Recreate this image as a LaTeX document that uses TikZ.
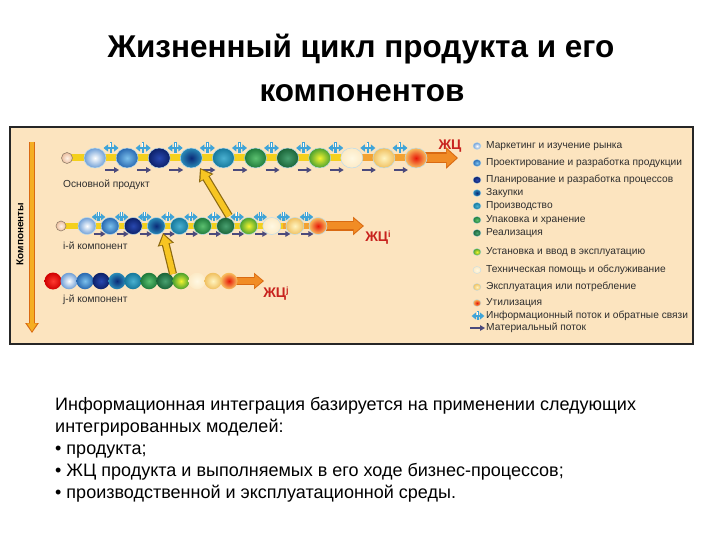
\documentclass[tikz,border=0pt]{standalone}
\usepackage{fontspec}
\setmainfont{Liberation Sans}
\usetikzlibrary{arrows.meta,calc,shapes.geometric}
\definecolor{panel}{HTML}{FCE4BF}
\definecolor{halo}{HTML}{B8DCEF}
\definecolor{barY}{HTML}{F4D01C}
\definecolor{barO}{HTML}{F3A231}
\definecolor{arrO}{HTML}{F18C25}
\definecolor{arrOd}{HTML}{D96A12}
\definecolor{linkY}{HTML}{F7C522}
\definecolor{linkD}{HTML}{8C6A12}
\definecolor{infoc}{HTML}{3FA4D8}
\definecolor{matc}{HTML}{4B4A7C}
\definecolor{jcred}{HTML}{C8231E}
\definecolor{legtxt}{HTML}{2E2E2E}
\definecolor{ci0}{HTML}{FFF2E6}\definecolor{co0}{HTML}{EBBE9E}
\definecolor{ci1}{HTML}{FFFFFF}\definecolor{co1}{HTML}{6E9ED6}
\definecolor{ci2}{HTML}{7CC0EC}\definecolor{co2}{HTML}{2868B0}
\definecolor{ci3}{HTML}{2848B0}\definecolor{co3}{HTML}{0C2068}
\definecolor{ci4}{HTML}{0A2A78}\definecolor{co4}{HTML}{2A8CB8}
\definecolor{ci5}{HTML}{4AB0D0}\definecolor{co5}{HTML}{16789C}
\definecolor{ci6}{HTML}{5CC070}\definecolor{co6}{HTML}{1E7A3A}
\definecolor{ci7}{HTML}{48A070}\definecolor{co7}{HTML}{1A6438}
\definecolor{ci8}{HTML}{F4F430}\definecolor{co8}{HTML}{48A030}
\definecolor{ci9}{HTML}{FFF8E2}\definecolor{co9}{HTML}{FCEAC6}
\definecolor{ci10}{HTML}{FFF4C0}\definecolor{co10}{HTML}{F0C060}
\definecolor{ci11}{HTML}{E81808}\definecolor{co11}{HTML}{F8C060}
\definecolor{cired}{HTML}{FF3A30}\definecolor{cored}{HTML}{D00000}
\tikzset{
  titlefont/.style={font=\fontsize{31.5}{36}\selectfont\bfseries, text=black, inner sep=0pt},
  bodytext/.style={font=\fontsize{18}{22}\selectfont, text=black, inner sep=0pt, anchor=base west},
  legtext/.style={font=\fontsize{10.2}{11}\selectfont, text=legtxt, inner sep=0pt, anchor=west},
  rowlabel/.style={font=\fontsize{10.2}{12}\selectfont, text=legtxt, inner sep=0pt, anchor=west},
  jclabel/.style={font=\fontsize{14}{16}\selectfont\bfseries, text=jcred, inner sep=0pt},
  ball/.style={ellipse, inner sep=0pt, draw=halo, line width=0.5pt},
  startball/.style={circle, inner sep=0pt, draw=gray!70!brown, line width=0.6pt, inner color=ci0, outer color=co0},
  barya/.style={draw=barY, line width=7pt},
  baror/.style={draw=barO, line width=7pt},
  infoarrow/.style={draw=infoc, line width=2.4pt, {Triangle[length=4.5pt,width=7pt]}-{Triangle[length=4.5pt,width=7pt]}},
  matarrow/.style={draw=matc, line width=1.4pt, -{Triangle[length=5pt,width=5.5pt]}},
  info/.pic={
    \draw[infoarrow] (-7.5,0) -- (7.5,0);
    \draw[infoc, line width=2.6pt] (0,-6) -- (0,5);
    \draw[white, line width=0.6pt] (-0.4,-5) -- (-0.4,-1);
  },
}
\begin{document}
\begin{tikzpicture}[x=1pt,y=-1pt]
\useasboundingbox (0,0) rectangle (720,540);
\fill[white] (0,0) rectangle (720,540);

% ---- title
\node[titlefont, anchor=base] (title1) at (361,58) {Жизненный цикл продукта и его};
\node[titlefont, anchor=base] (title2) at (362,102) {компонентов};

% ---- panel
\draw[fill=panel, draw=black!85, line width=1.3pt] (10,127) rectangle (693,344);

% ---- vertical components arrow
\coordinate (vtop) at (32,142);
\coordinate (vbot) at (32,333);
\draw[draw=arrOd, line width=6.5pt, -{Triangle[length=10pt,width=13pt]}] (vtop) -- (vbot);
\draw[draw=linkY!60!arrO, line width=4pt, shorten >=1.6pt, -{Triangle[length=8pt,width=9.5pt]}] (vtop) -- (vbot);
\node[font=\fontsize{10}{11}\selectfont\bfseries, rotate=90, inner sep=0pt] (comp) at (20,234) {Компоненты};

% ================= ROW 1 =================
\coordinate (p0) at (67,158);
\foreach \k in {1,...,11} { \coordinate (p\k) at ({95+(\k-1)*32.1},158); }
\foreach \k [evaluate=\k as \n using int(\k+1)] in {1,...,10} { \coordinate (m\k) at ($(p\k)!0.5!(p\n)$); }
\coordinate (r1tip) at (458,158);
\draw[barya] (p0) -- ($(m8)+(6,0)$);
\draw[baror] ($(p9)+(8,0)$) -- (p11);
\draw[draw=arrOd, line width=11pt, -{Triangle[length=12pt,width=21pt]}] (p11) -- (r1tip);
\draw[draw=arrO, line width=8.5pt, shorten >=1.5pt, -{Triangle[length=10pt,width=17pt]}] (p11) -- (r1tip);
\node[startball, minimum size=11pt] (a0) at (p0) {};
\foreach \k in {1,...,11} {
  \node[ball, minimum width=22pt, minimum height=20pt, inner color=ci\k, outer color=co\k] (a\k) at (p\k) {};
}
\foreach \k in {1,...,10} {
  \pic at ($(m\k)+(0,-10)$) {info};
  \draw[matarrow] ($(m\k)+(-6,12)$) -- ($(m\k)+(8,12)$);
}
\node[rowlabel] (lab1) at (63,185) {Основной продукт};
\node[jclabel] (jc1) at (450,146) {ЖЦ};

% ================= ROW 2 =================
\coordinate (q0) at (61,226);
\foreach \k in {1,...,11} { \coordinate (q\k) at ({87+(\k-1)*23.1},226); }
\foreach \k [evaluate=\k as \n using int(\k+1)] in {1,...,10} { \coordinate (n\k) at ($(q\k)!0.5!(q\n)$); }
\coordinate (r2tip) at (364,226);
\draw[barya, line width=6pt] (q0) -- (n9);
\draw[baror, line width=6pt] (n9) -- (q11);
\draw[draw=arrOd, line width=9.5pt, -{Triangle[length=11pt,width=18pt]}] (q11) -- (r2tip);
\draw[draw=arrO, line width=7pt, shorten >=1.5pt, -{Triangle[length=9pt,width=14.5pt]}] (q11) -- (r2tip);
\node[startball, minimum size=10pt] (b0) at (q0) {};
\foreach \k in {1,...,11} {
  \node[ball, minimum width=18pt, minimum height=17pt, inner color=ci\k, outer color=co\k] (b\k) at (q\k) {};
}
\foreach \k in {1,...,10} {
  \pic[scale=0.9] at ($(n\k)+(0,-9)$) {info};
  \draw[matarrow] ($(n\k)+(-5,8)$) -- ($(n\k)+(7,8)$);
}
\node[rowlabel] (lab2) at (63,246) {i-й компонент};
\node[jclabel] (jc2) at (378,238) {ЖЦ\raisebox{4pt}{\fontsize{9}{9}\selectfont i}};

% ================= ROW 3 =================
\coordinate (s0) at (53,281);
\foreach \k in {1,...,11} { \coordinate (s\k) at ({69+(\k-1)*16},281); }
\coordinate (r3tip) at (264,281);
\draw[draw=arrOd, line width=8.5pt, -{Triangle[length=10pt,width=16pt]}] (s11) -- (r3tip);
\draw[draw=arrO, line width=6pt, shorten >=1.5pt, -{Triangle[length=8pt,width=13pt]}] (s11) -- (r3tip);
\node[circle, inner sep=0pt, minimum size=17pt, inner color=cired, outer color=cored] (c0) at (s0) {};
\foreach \k in {1,...,11} {
  \node[ball, draw=none, minimum width=17pt, minimum height=16.5pt, inner color=ci\k, outer color=co\k] (c\k) at (s\k) {};
}
\node[rowlabel] (lab3) at (63,300) {j-й компонент};
\node[jclabel] (jc3) at (276,294) {ЖЦ\raisebox{4pt}{\fontsize{9}{9}\selectfont j}};

% ================= links between rows =================
\coordinate (lA1) at (229,216);
\coordinate (lA2) at (200,168);
\coordinate (lB1) at (173,274);
\coordinate (lB2) at (163,233);
\foreach \u/\v in {lA1/lA2, lB1/lB2} {
  \draw[draw=linkD, line width=8pt, -{Triangle[length=12pt,width=16pt]}] (\u) -- (\v);
  \draw[draw=linkY, line width=5.6pt, shorten >=1.8pt, -{Triangle[length=9.5pt,width=12pt]}] (\u) -- (\v);
}

% ================= legend =================
\foreach \k/\yy/\txt in {
  1/146/{Маркетинг и изучение рынка},
  2/163/{Проектирование и разработка продукции},
  3/180/{Планирование и разработка процессов},
  4/193/{Закупки},
  5/206/{Производство},
  6/220/{Упаковка и хранение},
  7/233/{Реализация},
  8/252/{Установка и ввод в эксплуатацию},
  9/270/{Техническая помощь и обслуживание},
  10/287/{Эксплуатация или потребление},
  11/303/{Утилизация}} {
  \node[ball, line width=0.3pt, minimum width=8pt, minimum height=7pt, inner color=ci\k, outer color=co\k] (L\k) at (477,\yy) {};
  \node[legtext] (LT\k) at (486,\yy) {\txt};
}
\coordinate (li) at (478,316);
\pic[scale=0.85] at (li) {info};
\node[legtext] (LT12) at (486,316) {Информационный поток и обратные связи};
\coordinate (lm1) at (470,328);
\coordinate (lm2) at (485,328);
\draw[matarrow] (lm1) -- (lm2);
\node[legtext] (LT13) at (486,328) {Материальный поток};

% ================= bottom text =================
\node[bodytext] (t1) at (55,410) {Информационная интеграция базируется на применении следующих};
\node[bodytext] (t2) at (55,432) {интегрированных моделей:};
\node[bodytext] (t3) at (55,454) {• продукта;};
\node[bodytext] (t4) at (55,476) {• ЖЦ продукта и выполняемых в его ходе бизнес-процессов;};
\node[bodytext] (t5) at (55,498) {• производственной и эксплуатационной среды.};
\end{tikzpicture}
\end{document}
